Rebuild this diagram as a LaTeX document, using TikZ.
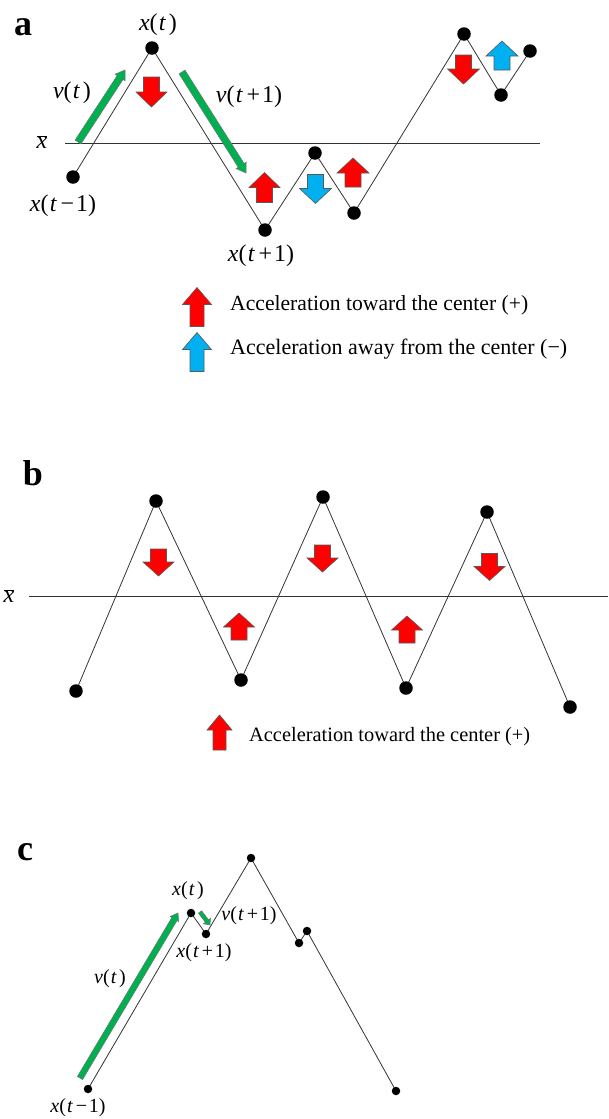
\documentclass[tikz,border=0pt]{standalone}
\usepackage{fontspec}
\usepackage{graphicx}
\setmainfont{Liberation Serif}
\usetikzlibrary{calc,backgrounds}
\definecolor{accred}{HTML}{FF0000}
\definecolor{accblue}{HTML}{00B0F0}
\definecolor{velgreen}{HTML}{00B050}
\newcommand\mv[1]{\textit{#1}}
\newcommand\lxt{\mv{x}(\kern.05em\mv{t}\kern.12em)}
\newcommand\lxtm{\mv{x}(\kern.05em\mv{t}\kern.15em−\kern.08em1)}
\newcommand\lxtp{\mv{x}(\kern.05em\mv{t}\kern.15em+\kern.08em1)}
\newcommand\lvt{\mv{v}(\kern.05em\mv{t}\kern.12em)}
\newcommand\lvtp{\mv{v}(\kern.05em\mv{t}\kern.15em+\kern.08em1)}
\newcommand\velarrow[5]{%
  \coordinate (vh) at ($(#2)!#5!(#1)$);
  \filldraw[velarr] ($(#1)!#3!90:(#2)$) -- ($(vh)!#3!90:(#2)$) -- ($(vh)!#4!90:(#2)$) -- (#2)
    -- ($(vh)!#4!-90:(#2)$) -- ($(vh)!#3!-90:(#2)$) -- ($(#1)!#3!-90:(#2)$) -- cycle;}
\tikzset{
  traj/.style={line width=0.8pt, black!80},
  meanline/.style={line width=0.8pt, black!80},
  dotA/.style={circle, fill=black, inner sep=0pt, minimum size=13.5pt},
  dotC/.style={circle, fill=black, inner sep=0pt, minimum size=8.5pt},
  labA/.style={inner sep=0pt, font=\fontsize{24}{28}\selectfont},
  labC/.style={inner sep=0pt, font=\fontsize{20}{24}\selectfont},
  legtext/.style={inner sep=0pt, anchor=west, font=\fontsize{22}{26}\selectfont},
  panel/.style={inner sep=0pt, font=\fontsize{36}{40}\selectfont\bfseries},
  redacc/.style={fill=accred, draw=black!65, line width=0.6pt},
  blueacc/.style={fill=accblue, draw=black!65, line width=0.6pt},
  velarr/.style={fill=velgreen, draw=black!55, line width=0.5pt},
  pics/blockarrow/.style args={#1/#2/#3/#4}{code={%
    \path[pic actions] (-#4/2,#2/2) -- (-#4/2,-#2/2+#3) -- (-#1/2,-#2/2+#3) -- (0,-#2/2)
      -- (#1/2,-#2/2+#3) -- (#4/2,-#2/2+#3) -- (#4/2,#2/2) -- cycle;}},
}
\begin{document}
\begin{tikzpicture}[x=1pt,y=-1pt]
\useasboundingbox (0,0) rectangle (608,1119);
% ---------------- panel a ----------------
\node[panel] (pa) at (23,27) {a};
\node[dotA] (a1) at (73,177) {};
\node[dotA] (a2) at (152,48) {};
\node[dotA] (a3) at (265,230) {};
\node[dotA] (a4) at (315,153) {};
\node[dotA] (a5) at (354,213) {};
\node[dotA] (a6) at (464,34) {};
\node[dotA] (a7) at (501,95) {};
\node[dotA] (a8) at (530,51) {};
\coordinate (ma0) at (65,143);
\coordinate (ma1) at (540,143);
\begin{pgfonlayer}{background}
\draw[meanline] (ma0) -- (ma1);
\draw[traj] (a1.center) -- (a2.center) -- (a3.center) -- (a4.center) -- (a5.center)
  -- (a6.center) -- (a7.center) -- (a8.center);
\end{pgfonlayer}
\node[labA] (xbara) at (42,142) {$\overline{\mbox{\mv{x}}}$};
\node[labA] (axt) at (158,25) {\lxt};
\node[labA] (axtm) at (63,206) {\lxtm};
\node[labA] (axtp) at (261,256) {\lxtp};
\node[labA] (avt) at (72,93) {\lvt};
\node[labA] (avtp) at (249,97) {\lvtp};
\coordinate (vaS) at (78,142);
\coordinate (vaE) at (125,70);
\velarrow{vaS}{vaE}{3.5pt}{6pt}{9pt}
\coordinate (vbS) at (182,72);
\coordinate (vbE) at (246,173);
\velarrow{vbS}{vbE}{3.5pt}{6pt}{9pt}
\pic[redacc,rotate=180] at (151.5,92) {blockarrow={31/30/15/16}};
\pic[redacc] at (264.5,187.5) {blockarrow={31/30/15/16}};
\pic[blueacc,rotate=180] at (315.5,189) {blockarrow={32/29/15/16}};
\pic[redacc] at (353,172.5) {blockarrow={32/29/15/16}};
\pic[redacc,rotate=180] at (463.5,69.5) {blockarrow={32/29/15/16}};
\pic[blueacc] at (502,55.5) {blockarrow={32/29/15/16}};
% legend a
\pic[redacc] at (197,307) {blockarrow={29/39/17/14}};
\pic[blueacc] at (197,352) {blockarrow={29/39/17/14}};
\node[legtext] (lega1) at (230,305.5) {\resizebox{298pt}{!}{Acceleration toward the center (+)}};
\node[legtext] (lega2) at (230,349.5) {\resizebox{337pt}{!}{Acceleration away from the center (−)}};
% ---------------- panel b ----------------
\node[panel] (pb) at (33,473) {b};
\node[dotA] (b1) at (76,691) {};
\node[dotA] (b2) at (156,501) {};
\node[dotA] (b3) at (241,680) {};
\node[dotA] (b4) at (323,497) {};
\node[dotA] (b5) at (406,688) {};
\node[dotA] (b6) at (487,512) {};
\node[dotA] (b7) at (570,707) {};
\coordinate (mb0) at (29,596);
\coordinate (mb1) at (608,596);
\begin{pgfonlayer}{background}
\draw[meanline] (mb0) -- (mb1);
\draw[traj] (b1.center) -- (b2.center) -- (b3.center) -- (b4.center) -- (b5.center)
  -- (b6.center) -- (b7.center);
\end{pgfonlayer}
\node[labA] (xbarb) at (9,596) {$\overline{\mbox{\mv{x}}}$};
\pic[redacc,rotate=180] at (158.5,562.5) {blockarrow={31/27/14/16}};
\pic[redacc,rotate=180] at (322.5,558.5) {blockarrow={31/27/14/16}};
\pic[redacc,rotate=180] at (489.5,567) {blockarrow={31/27/14/16}};
\pic[redacc] at (239,626.5) {blockarrow={31/27/14/16}};
\pic[redacc] at (407,629.5) {blockarrow={31/27/14/16}};
\pic[redacc] at (219.5,732.5) {blockarrow={25/35/15/13}};
\node[legtext] (legb1) at (249,737) {\resizebox{281pt}{!}{Acceleration toward the center (+)}};
% ---------------- panel c ----------------
\node[panel] (pc) at (25,852) {c};
\node[dotC] (c1) at (88,1089) {};
\node[dotC] (c2) at (191,913) {};
\node[dotC] (c3) at (206,934) {};
\node[dotC] (c4) at (251,858) {};
\node[dotC] (c5) at (299,943) {};
\node[dotC] (c6) at (307,931) {};
\node[dotC] (c7) at (396,1091) {};
\begin{pgfonlayer}{background}
\draw[traj] (c1.center) -- (c2.center) -- (c3.center) -- (c4.center) -- (c5.center)
  -- (c6.center) -- (c7.center);
\end{pgfonlayer}
\node[labC] (cxt) at (188,891) {\lxt};
\node[labC] (cvtp) at (249,916) {\lvtp};
\node[labC] (cxtp) at (204,953) {\lxtp};
\node[labC] (cvt) at (110,979) {\lvt};
\node[labC] (cxtm) at (78,1108) {\lxtm};
\coordinate (vcS) at (80,1078);
\coordinate (vcE) at (178,913);
\velarrow{vcS}{vcE}{3pt}{5pt}{7pt}
\coordinate (vdS) at (200,912);
\coordinate (vdE) at (210,925);
\velarrow{vdS}{vdE}{2pt}{4.5pt}{5pt}
\end{tikzpicture}
\end{document}
